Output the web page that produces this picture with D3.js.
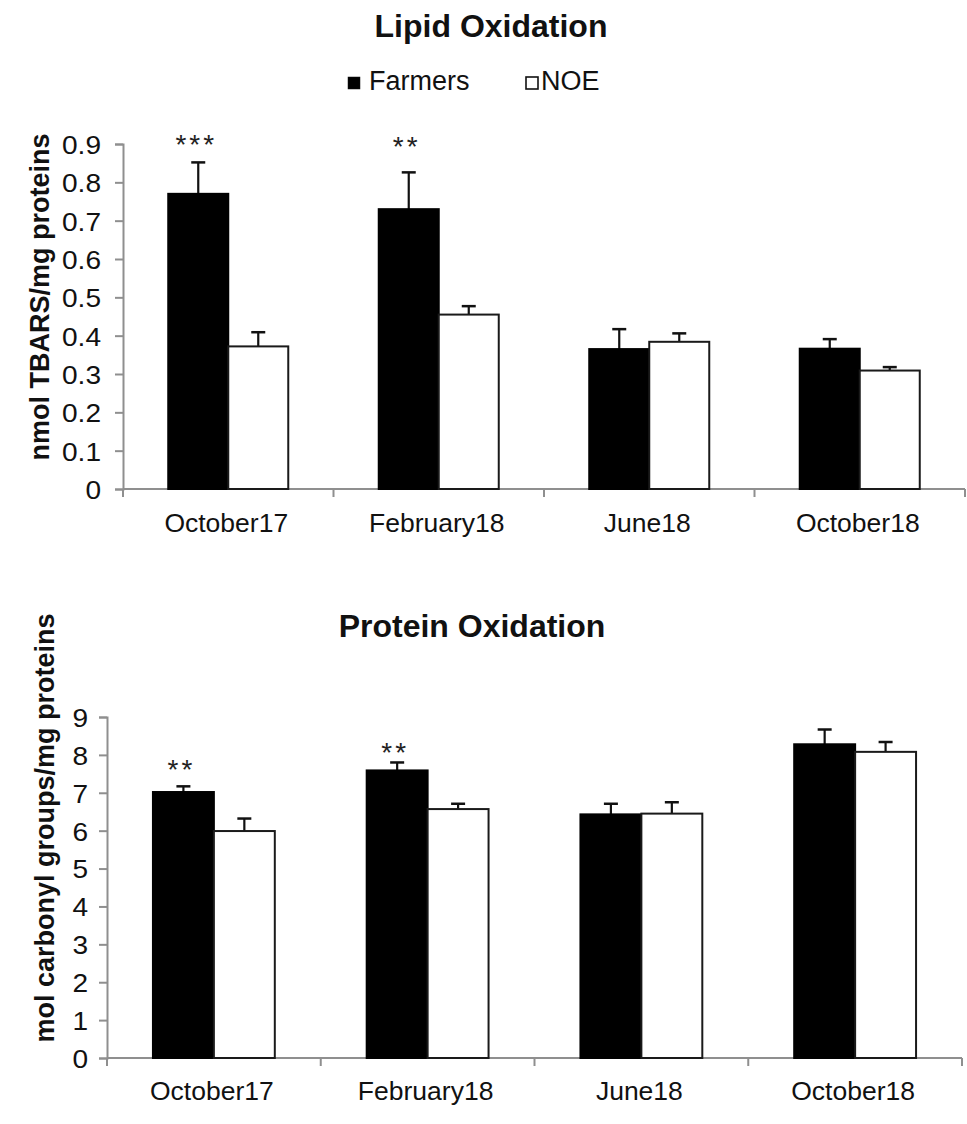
<!DOCTYPE html>
<html>
<head>
<meta charset="utf-8">
<script src="https://cdn.jsdelivr.net/npm/d3@7"></script>
<style>
  html, body { margin: 0; padding: 0; background: #fff; }
  svg { display: block; font-family: "Liberation Sans", Arial, sans-serif; }
</style>
</head>
<body>
<svg id="chart" width="967" height="1124"></svg>
<script>
// ---------------- data ----------------
const categories = ["October17", "February18", "June18", "October18"];
const seriesNames = ["Farmers", "NOE"];

const lipidFarmers    = [0.770, 0.730, 0.365, 0.366];
const lipidFarmersErr = [0.082, 0.096, 0.052, 0.025];
const lipidNOE        = [0.372, 0.455, 0.384, 0.309];
const lipidNOEErr     = [0.037, 0.022, 0.022, 0.009];
const lipidTicks      = [0, 0.1, 0.2, 0.3, 0.4, 0.5, 0.6, 0.7, 0.8, 0.9];
const lipidTickLabels = ["0", "0.1", "0.2", "0.3", "0.4", "0.5", "0.6", "0.7", "0.8", "0.9"];
const lipidStars      = ["***", "**", "", ""];
const lipidStarLevel  = [0.915, 0.91, null, null];

const proteinFarmers    = [7.02, 7.59, 6.43, 8.28];
const proteinFarmersErr = [0.15, 0.21, 0.28, 0.39];
const proteinNOE        = [5.99, 6.57, 6.45, 8.08];
const proteinNOEErr     = [0.33, 0.14, 0.30, 0.26];
const proteinTicks      = [0, 1, 2, 3, 4, 5, 6, 7, 8, 9];
const proteinTickLabels = ["0", "1", "2", "3", "4", "5", "6", "7", "8", "9"];
const proteinStars      = ["**", "**", "", ""];
const proteinStarLevel  = [7.78, 8.23, null, null];

// ---------------- drawing ----------------
const svg = d3.select("#chart");
const AXIS = "#8f8f8f";
const TICK_STRETCH = 1.08;

function drawChart(cfg) {
  const g = svg.append("g");
  const x0 = d3.scaleBand().domain(categories).range([cfg.left, cfg.right]).padding(0);
  const x1 = d3.scaleBand().domain(seriesNames).range([0, x0.bandwidth()]).paddingInner(0).paddingOuter(0.754);
  const y = d3.scaleLinear().domain([0, cfg.ymax]).range([cfg.bottom, cfg.top]);

  // y axis
  const yAxis = d3.axisLeft(y).tickValues(cfg.ticks).tickSize(8).tickFormat((d, i) => cfg.tickLabels[i]);
  const ya = g.append("g").attr("transform", `translate(${cfg.left},0)`).call(yAxis);
  ya.select(".domain").attr("stroke", AXIS).attr("stroke-width", 2);
  ya.selectAll(".tick line").attr("stroke", AXIS).attr("stroke-width", 2);
  ya.selectAll(".tick text")
    .attr("font-size", 26).attr("fill", "#111")
    .attr("font-family", "'Liberation Sans', Arial, sans-serif")
    .attr("x", -cfg.tickPad / TICK_STRETCH).attr("dy", "0.36em")
    .attr("transform", `scale(${TICK_STRETCH},1)`);

  // x axis
  g.append("line").attr("x1", cfg.left).attr("x2", cfg.right)
    .attr("y1", y(0)).attr("y2", y(0)).attr("stroke", AXIS).attr("stroke-width", 2);
  const bounds = categories.map(c => x0(c)).concat([x0.range()[1]]);
  g.selectAll(".xtick").data(bounds).join("line")
    .attr("x1", d => d).attr("x2", d => d)
    .attr("y1", y(0)).attr("y2", y(0) + 8)
    .attr("stroke", AXIS).attr("stroke-width", 2);
  g.selectAll(".cat").data(categories).join("text")
    .attr("x", c => x0(c) + x0.bandwidth() / 2 - 2)
    .attr("y", y(0) + cfg.catOffset)
    .attr("text-anchor", "middle").attr("font-size", 26.5).attr("fill", "#111")
    .text(c => c);

  // bars
  const rows = categories.map((c, i) => ({
    cat: c,
    vals: [
      { s: "Farmers", v: cfg.farmers[i], e: cfg.farmersErr[i] },
      { s: "NOE", v: cfg.noe[i], e: cfg.noeErr[i] }
    ]
  }));
  const grp = g.selectAll(".grp").data(rows).join("g")
    .attr("transform", d => `translate(${x0(d.cat)},0)`);
  grp.selectAll(".err").data(d => d.vals).join("g").each(function (d) {
    const cx = x1(d.s) + x1.bandwidth() / 2;
    const sel = d3.select(this);
    sel.append("line").attr("x1", cx).attr("x2", cx)
      .attr("y1", y(d.v)).attr("y2", y(d.v + d.e))
      .attr("stroke", "#111").attr("stroke-width", 2.2);
    sel.append("line").attr("x1", cx - 7).attr("x2", cx + 7)
      .attr("y1", y(d.v + d.e)).attr("y2", y(d.v + d.e))
      .attr("stroke", "#111").attr("stroke-width", 2.5);
  });
  grp.selectAll(".bar").data(d => d.vals).join("rect")
    .attr("x", d => x1(d.s))
    .attr("y", d => y(d.v))
    .attr("width", x1.bandwidth())
    .attr("height", d => y(0) - y(d.v))
    .attr("fill", d => d.s === "Farmers" ? "#000" : "#fff")
    .attr("stroke", d => d.s === "Farmers" ? "#000" : "#1a1a1a")
    .attr("stroke-width", 2);

  // significance stars
  categories.forEach((c, i) => {
    if (!cfg.stars[i]) return;
    const cx = x0(c) + x1("Farmers") + x1.bandwidth() / 2;
    g.append("text").attr("x", cx - 2).attr("y", y(cfg.starLevel[i]) + 16)
      .attr("text-anchor", "middle").attr("font-size", 28).attr("letter-spacing", 3)
      .attr("fill", "#222").text(cfg.stars[i]);
  });

  // y label
  g.append("text")
    .attr("transform", `translate(${cfg.ylabX},${cfg.ylabY}) rotate(-90)`)
    .attr("text-anchor", "middle").attr("font-size", 27).attr("font-weight", "bold")
    .attr("fill", "#111").text(cfg.ylabel);

  // title
  g.append("text").attr("x", cfg.titleX).attr("y", cfg.titleY)
    .attr("text-anchor", "middle").attr("font-size", 32).attr("font-weight", "bold")
    .attr("fill", "#111").text(cfg.title);
}

drawChart({
  left: 123, right: 965, top: 144, bottom: 489, ymax: 0.9,
  ticks: lipidTicks, tickLabels: lipidTickLabels, tickPad: 22,
  farmers: lipidFarmers, farmersErr: lipidFarmersErr, noe: lipidNOE, noeErr: lipidNOEErr,
  stars: lipidStars, starLevel: lipidStarLevel,
  catOffset: 43, ylabel: "nmol TBARS/mg proteins", ylabX: 49, ylabY: 297,
  title: "Lipid Oxidation", titleX: 491, titleY: 37
});

drawChart({
  left: 107, right: 962, top: 717, bottom: 1058, ymax: 9,
  ticks: proteinTicks, tickLabels: proteinTickLabels, tickPad: 19,
  farmers: proteinFarmers, farmersErr: proteinFarmersErr, noe: proteinNOE, noeErr: proteinNOEErr,
  stars: proteinStars, starLevel: proteinStarLevel,
  catOffset: 42, ylabel: "mol carbonyl groups/mg proteins", ylabX: 54, ylabY: 828,
  title: "Protein Oxidation", titleX: 472, titleY: 637
});

// legend
const leg = svg.append("g");
const legendItems = [
  { s: "Farmers", mx: 348, tx: 369 },
  { s: "NOE", mx: 526, tx: 541 }
];
legendItems.forEach(it => {
  leg.append("rect").attr("x", it.mx).attr("y", 77).attr("width", 12).attr("height", 12)
    .attr("fill", it.s === "Farmers" ? "#000" : "#fff")
    .attr("stroke", "#111").attr("stroke-width", it.s === "Farmers" ? 0.5 : 1.6);
  leg.append("text").attr("x", it.tx).attr("y", 90).attr("font-size", 27)
    .attr("fill", "#111").text(it.s);
});
</script>
</body>
</html>
